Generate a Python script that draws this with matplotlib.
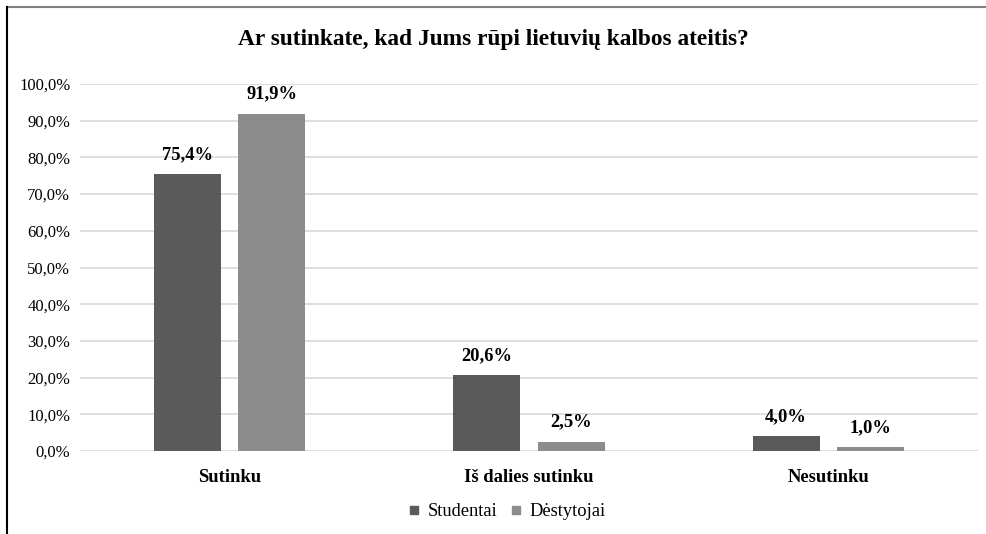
import numpy as np
import matplotlib.pyplot as plt
from matplotlib.lines import Line2D

categories = ["Sutinku", "Iš dalies sutinku", "Nesutinku"]
studentai = [75.4, 20.6, 4.0]
destytojai = [91.9, 2.5, 1.0]
series_names = ["Studentai", "Dėstytojai"]

plt.rcParams['font.family'] = ['Liberation Serif', 'DejaVu Serif']

fig = plt.figure(figsize=(9.87, 5.34), dpi=100)
ax = fig.add_axes([80/987, 1-451/534, 898/987, (451-84)/534])

x = np.arange(len(categories))
w = 0.224
off = 0.141
b1 = ax.bar(x - off, studentai, w, color="#5a5a5a", label=series_names[0], zorder=3)
b2 = ax.bar(x + off, destytojai, w, color="#8c8c8c", label=series_names[1], zorder=3)

for bars, vals in ((b1, studentai), (b2, destytojai)):
    for r, v in zip(bars, vals):
        ax.annotate(f"{v:.1f}%".replace(".", ","), (r.get_x() + r.get_width()/2, v),
                    xytext=(0, 8), textcoords="offset points", ha="center", va="bottom",
                    fontsize=13.3, fontweight="bold")

ax.set_xlim(-0.5, 2.5)
ax.set_ylim(0, 100)
ax.set_yticks(np.arange(0, 101, 10))
ax.set_yticklabels([f"{t:.1f}%".replace(".", ",") for t in np.arange(0, 101, 10)], fontsize=12)
ax.set_xticks(x)
ax.set_xticklabels(categories, fontsize=13.4, fontweight="bold")
ax.tick_params(length=0, pad=7)
ax.tick_params(axis="x", pad=13)
ax.grid(axis="y", color="#d9d9d9", linewidth=1.2, zorder=0)
for s in ax.spines.values():
    s.set_visible(False)

fig.text(0.5, 1-40/534, "Ar sutinkate, kad Jums rūpi lietuvių kalbos ateitis?",
         ha="center", va="center", fontsize=16.8, fontweight="bold")

handles = [Line2D([], [], marker="s", linestyle="none", markersize=6, color=c)
           for c in ("#5a5a5a", "#8c8c8c")]
fig.legend(handles, series_names, loc="center", bbox_to_anchor=(507/987, 1-512/534),
           ncol=2, frameon=False, fontsize=13.3, handlelength=0.6, handletextpad=0.45,
           columnspacing=0.7)

# chart frame lines (top and left)
fig.add_artist(Line2D([7/987, 1], [1-7/534, 1-7/534], color="#7f7f7f", linewidth=1.5,
                      transform=fig.transFigure))
fig.add_artist(Line2D([7/987, 7/987], [0, 1-7/534], color="black", linewidth=1.5,
                      transform=fig.transFigure))

fig.savefig("out.png", dpi=100, facecolor="white")
